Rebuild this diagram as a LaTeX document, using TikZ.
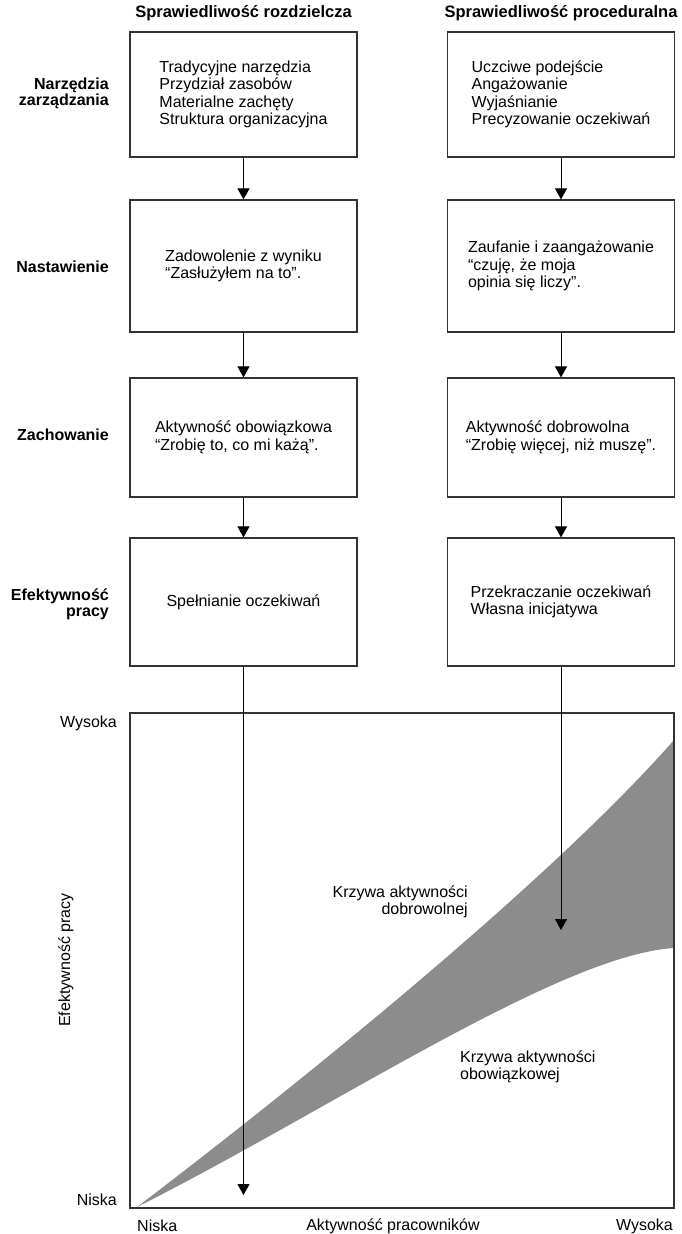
\documentclass[tikz,border=0pt]{standalone}
\usepackage{fontspec}
\setmainfont{Liberation Sans}
\usetikzlibrary{arrows.meta}
\definecolor{wedge}{gray}{0.55}
\definecolor{ink}{gray}{0.2}

\begin{document}
\begin{tikzpicture}[x=1pt,y=-1pt,
  every node/.style={font=\fontsize{16}{17.5}\selectfont,inner sep=0pt},
  box/.style={draw=ink,line width=1.2pt,minimum width=227pt,align=left},
  row/.style={font=\fontsize{16}{16}\selectfont\bfseries,anchor=east,align=right},
  head/.style={font=\fontsize{16.5}{18}\selectfont\bfseries},
  arr/.style={draw=black,line width=1pt,-{Triangle[width=12pt,length=11pt]}}]
  \useasboundingbox (0,0) rectangle (681,1234);

  \node[head] (hl) at (243.5,13) {Sprawiedliwość rozdzielcza};
  \node[head] (hr) at (561,13) {Sprawiedliwość proceduralna};

  \node[box,minimum height=125pt] (l1) at (243.5,94.5) {Tradycyjne narzędzia\\Przydział zasobów\\Materialne zachęty\\Struktura organizacyjna};
  \node[box,minimum height=125pt] (r1) at (561,94.5) {Uczciwe podejście\\Angażowanie\\Wyjaśnianie\\Precyzowanie oczekiwań};
  \node[box,minimum height=132pt] (l2) at (243.5,266) {Zadowolenie z wyniku\\“Zasłużyłem na to”.};
  \node[box,minimum height=132pt] (r2) at (561,266) {Zaufanie i zaangażowanie\\“czuję, że moja\\opinia się liczy”.};
  \node[box,minimum height=119pt] (l3) at (243.5,437.5) {Aktywność obowiązkowa\\“Zrobię to, co mi każą”.};
  \node[box,minimum height=119pt] (r3) at (561,437.5) {Aktywność dobrowolna\\“Zrobię więcej, niż muszę”.};
  \node[box,minimum height=128pt] (l4) at (243.5,602) {Spełnianie oczekiwań};
  \node[box,minimum height=128pt] (r4) at (561,602) {Przekraczanie oczekiwań\\Własna inicjatywa};

  \node[row] (n1) at (109,93) {Narzędzia\\zarządzania};
  \node[row] (n2) at (109,267) {Nastawienie};
  \node[row] (n3) at (109,435) {Zachowanie};
  \node[row] (n4) at (109,604) {Efektywność\\pracy};

  \fill[wedge] (137,1207) .. controls (330,1060) and (560,870) .. (674,740)
    -- (674,948) .. controls (560,955) and (330,1110) .. (137,1207) -- cycle;
  \draw[ink,line width=1.2pt] (130,713) rectangle (674,1208);

  \coordinate (tl) at (243.5,1195);
  \coordinate (tr) at (561,930);
  \draw[arr] (l1.south) -- (l2.north);
  \draw[arr] (l2.south) -- (l3.north);
  \draw[arr] (l3.south) -- (l4.north);
  \draw[arr] (l4.south) -- (tl);
  \draw[arr] (r1.south) -- (r2.north);
  \draw[arr] (r2.south) -- (r3.north);
  \draw[arr] (r3.south) -- (r4.north);
  \draw[arr] (r4.south) -- (tr);

  \node[anchor=east,align=right] (kd) at (468,902) {Krzywa aktywności\\dobrowolnej};
  \node[anchor=west,align=left] (ko) at (460,1067) {Krzywa aktywności\\obowiązkowej};

  \node[rotate=90] (ey) at (66,960) {Efektywność pracy};
  \node[anchor=east] (yh) at (117,723) {Wysoka};
  \node[anchor=east] (yl) at (117,1200) {Niska};
  \node[anchor=west] (xl) at (137,1226) {Niska};
  \node (xa) at (393,1226) {Aktywność pracowników};
  \node[anchor=east] (xh) at (673,1226) {Wysoka};
\end{tikzpicture}
\end{document}
